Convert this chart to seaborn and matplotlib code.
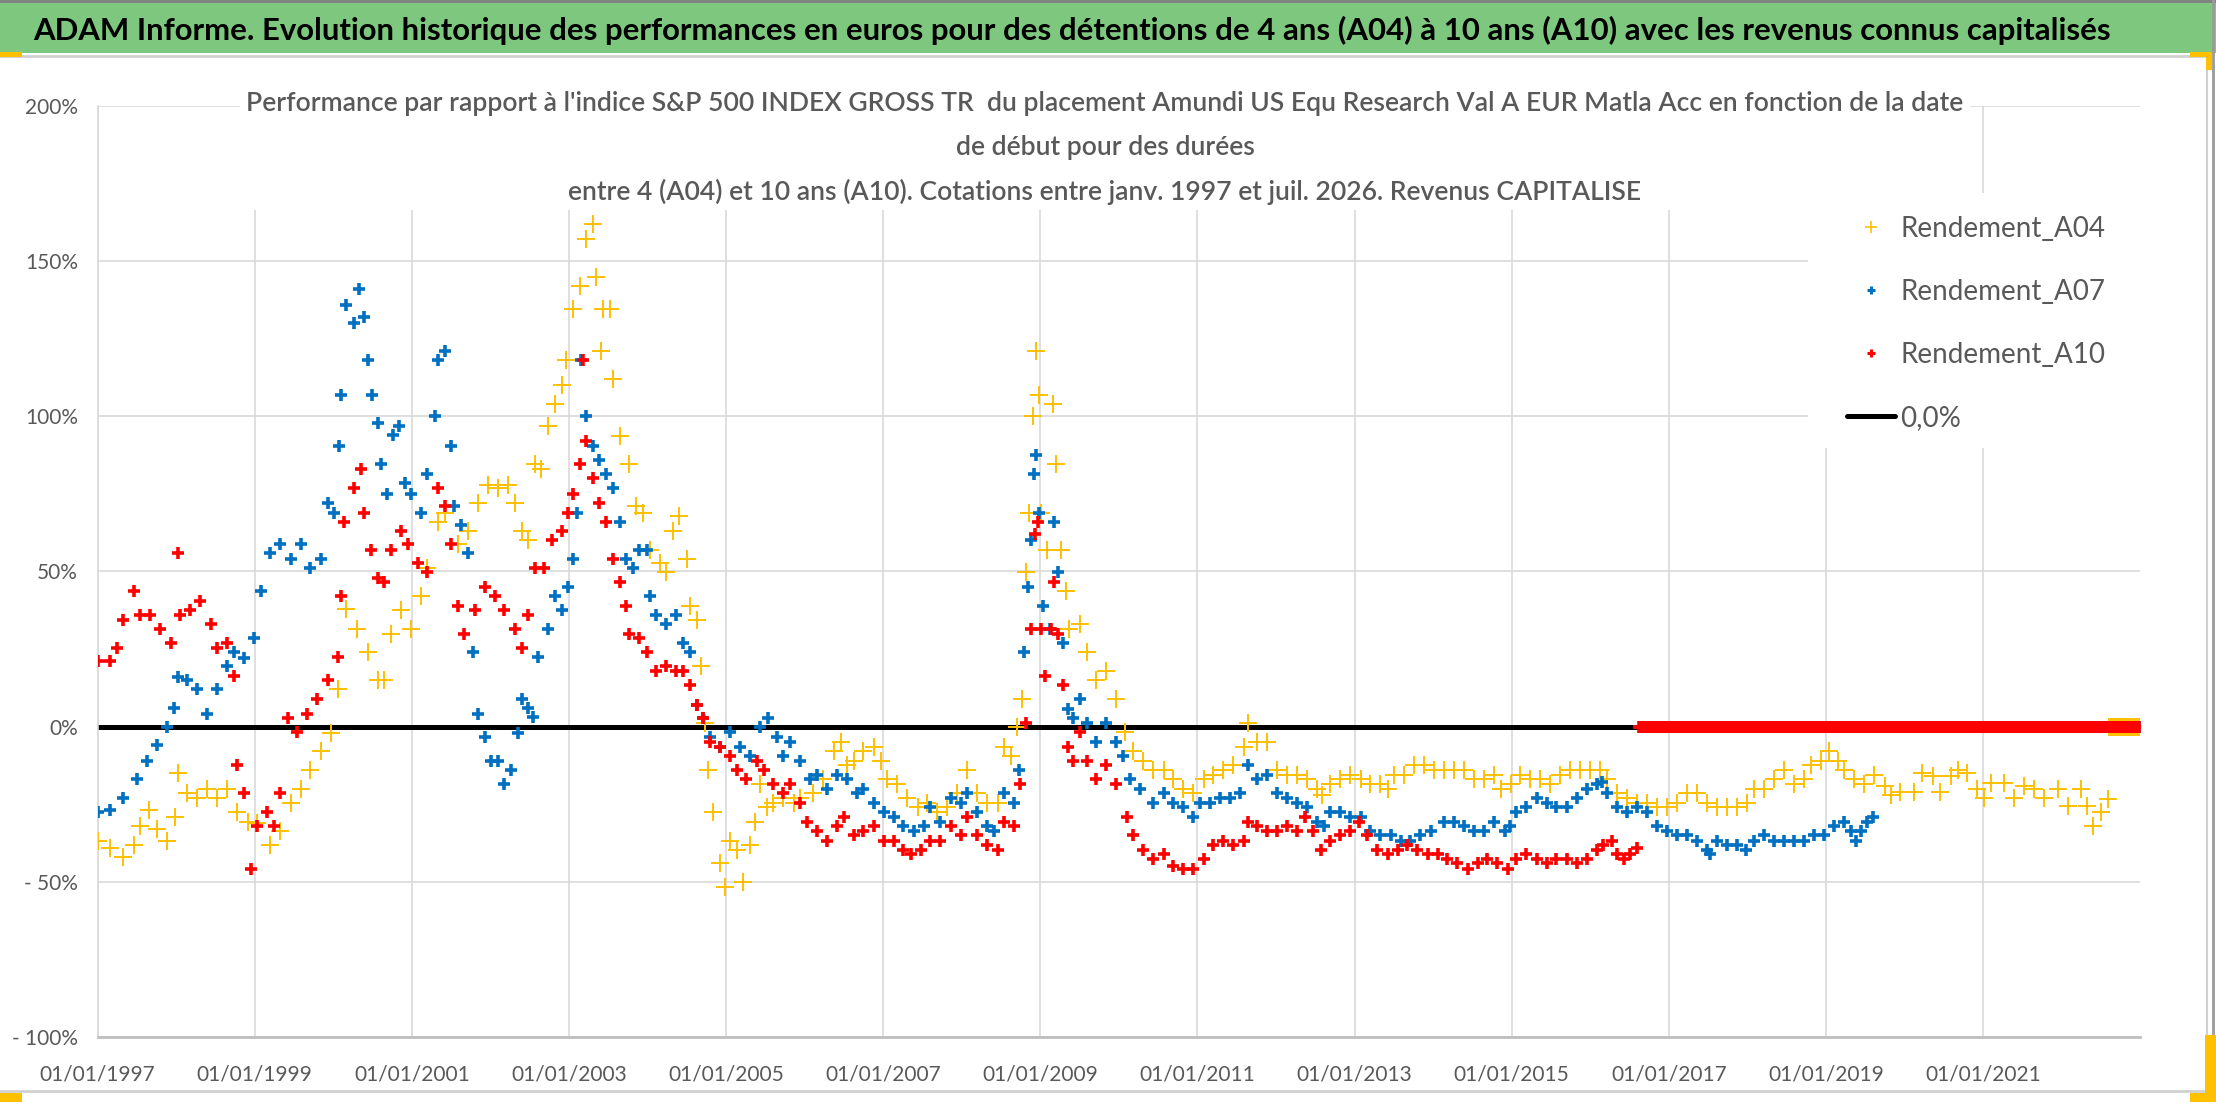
import numpy as np
import pandas as pd
import matplotlib
matplotlib.use("Agg")
import matplotlib.pyplot as plt
import seaborn as sns
from matplotlib.patches import Rectangle
from matplotlib.lines import Line2D

# ---------------- DATA ----------------
header_text = ("ADAM Informe. Evolution historique des performances en euros pour des détentions "
               "de 4 ans (A04) à 10 ans (A10) avec les revenus connus capitalisés")
title_lines = [
    "Performance par rapport à l'indice S&P 500 INDEX GROSS TR  du placement Amundi US Equ Research Val A EUR Matla Acc en fonction de la date",
    "de début pour des durées",
    "entre 4 (A04) et 10 ans (A10). Cotations entre janv. 1997 et juil. 2026. Revenus CAPITALISE",
]
series_names = ["Rendement_A04", "Rendement_A07", "Rendement_A10"]
zero_label = "0,0%"

# Rendement_A04 (decimal year, % value)
a04_years = [
    1997.00, 1997.16, 1997.33, 1997.46, 1997.54, 1997.65, 1997.76, 1997.89, 1997.99,
    1998.03, 1998.14, 1998.27, 1998.40, 1998.52, 1998.65, 1998.78, 1998.91,
    1999.03, 1999.20, 1999.33, 1999.46, 1999.59, 1999.71, 1999.84, 1999.97,
    2000.06, 2000.16, 2000.31, 2000.44, 2000.57, 2000.65, 2000.74, 2000.86, 2000.99,
    2001.12, 2001.20, 2001.33, 2001.42, 2001.59, 2001.71, 2001.84, 2001.97,
    2002.10, 2002.23, 2002.31, 2002.40, 2002.48, 2002.57, 2002.65, 2002.74, 2002.82, 2002.91, 2002.97,
    2003.05, 2003.14, 2003.22, 2003.31, 2003.35, 2003.41, 2003.43, 2003.52, 2003.56, 2003.65, 2003.77, 2003.86, 2003.94,
    2004.03, 2004.16, 2004.24, 2004.33, 2004.41, 2004.50, 2004.54, 2004.63, 2004.69, 2004.73, 2004.77, 2004.84, 2004.92, 2004.99,
    2005.05, 2005.14, 2005.22, 2005.31, 2005.37, 2005.43, 2005.52, 2005.60, 2005.73, 2005.86, 2005.94,
    2006.11, 2006.24, 2006.37, 2006.46, 2006.54, 2006.63, 2006.75, 2006.88, 2006.97,
    2007.05, 2007.18, 2007.31, 2007.44, 2007.56, 2007.69, 2007.82, 2007.94,
    2008.07, 2008.20, 2008.33, 2008.46, 2008.54, 2008.63, 2008.71, 2008.77, 2008.82, 2008.86, 2008.91, 2008.95, 2008.98,
    2009.01, 2009.08, 2009.16, 2009.20, 2009.27, 2009.33, 2009.37, 2009.50, 2009.59, 2009.71, 2009.84, 2009.97,
    2010.08, 2010.18, 2010.31, 2010.44, 2010.57, 2010.69, 2010.82, 2010.95,
    2011.08, 2011.20, 2011.33, 2011.46, 2011.59, 2011.65, 2011.76, 2011.89,
    2012.01, 2012.14, 2012.27, 2012.40, 2012.52, 2012.59, 2012.69, 2012.82, 2012.95,
    2013.08, 2013.20, 2013.33, 2013.42, 2013.50, 2013.63, 2013.76, 2013.88,
    2014.01, 2014.14, 2014.27, 2014.40, 2014.52, 2014.65, 2014.78, 2014.86, 2014.99,
    2015.11, 2015.23, 2015.36, 2015.49, 2015.62, 2015.74, 2015.87,
    2016.00, 2016.13, 2016.21, 2016.34, 2016.47, 2016.60, 2016.72, 2016.85, 2016.98,
    2017.11, 2017.23, 2017.36, 2017.49, 2017.62, 2017.74, 2017.87,
    2018.00, 2018.09, 2018.21, 2018.34, 2018.47, 2018.60, 2018.72, 2018.81, 2018.94,
    2019.04, 2019.15, 2019.23, 2019.36, 2019.49, 2019.62, 2019.75, 2019.83, 2019.95,
    2020.12, 2020.23, 2020.36, 2020.46, 2020.59, 2020.68, 2020.80, 2020.93,
    2021.01, 2021.10, 2021.27, 2021.40, 2021.52, 2021.65, 2021.78, 2021.95,
    2022.08, 2022.25, 2022.33, 2022.40, 2022.50, 2022.59,
]
a04_values = [
    -37, -39, -42, -38, -32, -27, -33, -37, -29,
    -15, -21.5, -23, -20, -23, -20, -27.5, -30.6,
    -31, -38, -33.6, -24.5, -20, -14, -8, -2,
    12, 38, 31.5, 24, 15, 15, 30, 37.5, 31.5,
    42, 51, 66, 69, 59, 63, 72, 78,
    77, 78, 72, 63, 60, 84.5, 83, 97, 104, 110, 118,
    134.5, 142, 157, 162, 145, 121, 134.5, 134.5, 112, 93.6, 84.5, 71, 69,
    57, 52.7, 49.7, 63, 68, 54, 39, 34.5, 19.4, 1.2, -14, -27.6, -44, -51.8,
    -36.7, -39.7, -50, -38, -30.6, -18.5, -26, -24.5, -23, -24.5, -23,
    -21.5, -17, -8, -4.8, -12.4, -11, -8, -6.4, -11,
    -17, -18.5, -23, -26, -24.5, -27.6, -26, -21.5,
    -14, -21.5, -24.5, -24.5, -6.4, -9.4, 0, 9, 49.7, 69, 100, 121, 107,
    69, 57, 104, 84.5, 57, 43.6, 31.5, 33, 24, 15, 18, 9,
    -1.8, -8, -11, -14, -14, -17, -20, -21.5,
    -17, -15.5, -14, -12.4, -6.4, 1.2, -4.8, -4.8,
    -14, -15.5, -15.5, -17, -20, -22, -18.5, -17, -15.5,
    -17, -18.5, -18.5, -20, -15.5, -15.5, -12.4, -12.4,
    -14, -14, -14, -14, -17, -17, -15.5, -20, -18.5,
    -15.5, -17, -17, -18.5, -15.5, -14, -14,
    -14, -14, -17, -21.5, -23, -24.5, -24.5, -26, -26,
    -24.5, -21.5, -21.5, -24.5, -26, -26, -26,
    -24.5, -20, -20, -17, -14, -18.5, -17, -12.4, -11,
    -8, -11, -14, -17, -18.5, -15.5, -19, -22, -21,
    -21, -15, -16, -21, -16, -14, -15, -20,
    -23, -18, -18, -23, -19, -20, -23, -20,
    -25.5, -20, -25.5, -32, -27.6, -23.4,
]

# Rendement_A07
a07_years = [
    1997.00, 1997.16, 1997.33, 1997.50, 1997.63, 1997.76, 1997.89, 1997.97,
    1998.03, 1998.14, 1998.27, 1998.40, 1998.52, 1998.65, 1998.74, 1998.86, 1998.99,
    1999.08, 1999.20, 1999.33, 1999.46, 1999.59, 1999.71, 1999.84, 1999.93,
    2000.01, 2000.08, 2000.10, 2000.16, 2000.27, 2000.33, 2000.40, 2000.44, 2000.50, 2000.57, 2000.61,
    2000.69, 2000.76, 2000.84, 2000.91, 2000.99,
    2001.12, 2001.20, 2001.29, 2001.33, 2001.42, 2001.50, 2001.54, 2001.63, 2001.71, 2001.78, 2001.84, 2001.93,
    2002.01, 2002.10, 2002.18, 2002.27, 2002.35, 2002.40, 2002.48, 2002.54, 2002.61, 2002.74, 2002.82, 2002.91, 2002.99,
    2003.05, 2003.11, 2003.16, 2003.22, 2003.31, 2003.39, 2003.48, 2003.56, 2003.65, 2003.73, 2003.82, 2003.90, 2003.99,
    2004.03, 2004.11, 2004.24, 2004.37, 2004.46, 2004.54, 2004.63, 2004.71, 2004.80, 2004.92,
    2005.05, 2005.18, 2005.31, 2005.43, 2005.54, 2005.65, 2005.73, 2005.82, 2005.94,
    2006.07, 2006.16, 2006.29, 2006.41, 2006.54, 2006.67, 2006.75, 2006.88,
    2007.01, 2007.14, 2007.26, 2007.39, 2007.52, 2007.60, 2007.73, 2007.86, 2007.99,
    2008.07, 2008.20, 2008.33, 2008.41, 2008.54, 2008.67, 2008.73, 2008.80, 2008.84, 2008.88, 2008.92, 2008.95, 2008.99,
    2009.03, 2009.12, 2009.18, 2009.22, 2009.29, 2009.35, 2009.42, 2009.50, 2009.59, 2009.71, 2009.84, 2009.97,
    2010.06, 2010.14, 2010.27, 2010.44, 2010.57, 2010.69, 2010.82, 2010.95,
    2011.03, 2011.16, 2011.29, 2011.42, 2011.54, 2011.65, 2011.76, 2011.89,
    2012.01, 2012.14, 2012.27, 2012.40, 2012.52, 2012.61, 2012.69, 2012.82, 2012.95,
    2013.08, 2013.20, 2013.33, 2013.46, 2013.59, 2013.71, 2013.84, 2013.97,
    2014.14, 2014.27, 2014.40, 2014.52, 2014.65, 2014.78, 2014.91, 2014.98,
    2015.06, 2015.19, 2015.32, 2015.45, 2015.57, 2015.70, 2015.83, 2015.96,
    2016.09, 2016.15, 2016.21, 2016.34, 2016.47, 2016.60, 2016.72, 2016.85, 2016.98,
    2017.11, 2017.23, 2017.36, 2017.49, 2017.53, 2017.62, 2017.74, 2017.87, 2017.98,
    2018.09, 2018.21, 2018.34, 2018.47, 2018.60, 2018.72, 2018.85, 2018.98,
    2019.11, 2019.23, 2019.32, 2019.38, 2019.45, 2019.53, 2019.60,
]
a07_values = [
    -27.6, -27, -23, -17, -11, -6, 0, 6,
    16, 15, 12, 4, 12, 19.4, 24, 22, 28.5,
    43.6, 56, 59, 54, 59, 51, 54, 72,
    69, 90.6, 107, 136, 130, 141, 132, 118, 107, 98, 84.5,
    75, 94, 97, 78.5, 75,
    69, 81.5, 100, 118, 121, 90.6, 71, 65, 56, 24, 4, -3.3,
    -11, -11, -18.5, -14, -2, 9, 6, 3, 22.4, 31.5, 42, 37.5, 45,
    54, 69, 118, 100, 90.6, 86, 81.5, 77, 66, 54, 51, 57, 57,
    42, 36, 33, 36, 27, 24, 7, 2.7, -3.3, -6.4,
    -1.8, -6.4, -9.4, 0, 2.7, -3.3, -9.4, -4.8, -11,
    -17, -15.5, -20, -15.5, -17, -21.5, -20, -24.5,
    -27.6, -29, -32, -33.6, -32, -26, -30.6, -23, -24.5,
    -21.5, -27.6, -32, -33.6, -21.5, -24.5, -14, 24, 45, 60, 81.5, 87.6, 69,
    39, 31.5, 66, 49.7, 27, 5.8, 2.7, 9, 1.2, -4.8, 1.2, -4.8,
    -9.4, -17, -20, -24.5, -21.5, -24.5, -26, -29,
    -24.5, -24.5, -23, -23, -21.5, -12.4, -17, -15.5,
    -21.5, -23, -24.5, -26, -30.6, -32, -27.6, -27.6, -29,
    -29, -33.6, -35, -35, -36.7, -36.7, -35, -33.6,
    -30.6, -30.6, -32, -33.6, -33.6, -30.6, -33.6, -32,
    -27.6, -26, -23, -24.5, -26, -26, -23, -20,
    -18.5, -17.7, -21.5, -26, -27.6, -26, -27.6, -32, -33.6,
    -35, -35, -36.7, -39.7, -41, -36.7, -38, -38, -39.7,
    -36.7, -35, -36.7, -36.7, -36.7, -36.7, -35, -35,
    -32, -30.6, -33.6, -36.7, -33.6, -30.6, -29,
]

# Rendement_A10
a10_years = [
    1997.00, 1997.16, 1997.25, 1997.33, 1997.46, 1997.54, 1997.67, 1997.80, 1997.93,
    1998.03, 1998.05, 1998.18, 1998.31, 1998.44, 1998.52, 1998.65, 1998.74, 1998.78, 1998.86, 1998.95,
    1999.03, 1999.16, 1999.25, 1999.33, 1999.42, 1999.54, 1999.67, 1999.80, 1999.93,
    2000.06, 2000.10, 2000.14, 2000.27, 2000.35, 2000.40, 2000.48, 2000.57, 2000.65, 2000.74, 2000.86, 2000.95,
    2001.08, 2001.20, 2001.33, 2001.42, 2001.50, 2001.59, 2001.67, 2001.80, 2001.93,
    2002.06, 2002.18, 2002.31, 2002.40, 2002.48, 2002.57, 2002.69, 2002.78, 2002.91, 2002.99,
    2003.05, 2003.14, 2003.18, 2003.22, 2003.31, 2003.39, 2003.48, 2003.56, 2003.65, 2003.73, 2003.77, 2003.90, 2003.99,
    2004.11, 2004.24, 2004.37, 2004.46, 2004.54, 2004.63, 2004.71, 2004.80, 2004.92,
    2005.05, 2005.14, 2005.26, 2005.39, 2005.48, 2005.60, 2005.73, 2005.82, 2005.94,
    2006.03, 2006.16, 2006.29, 2006.41, 2006.50, 2006.63, 2006.75, 2006.88,
    2007.01, 2007.14, 2007.26, 2007.35, 2007.48, 2007.60, 2007.73, 2007.86, 2007.99,
    2008.07, 2008.20, 2008.33, 2008.46, 2008.54, 2008.67, 2008.75, 2008.82, 2008.88, 2008.94, 2008.97,
    2009.01, 2009.06, 2009.14, 2009.18, 2009.23, 2009.29, 2009.35, 2009.42, 2009.50, 2009.59, 2009.71, 2009.84, 2009.97,
    2010.10, 2010.18, 2010.31, 2010.44, 2010.57, 2010.69, 2010.82, 2010.95,
    2011.08, 2011.20, 2011.33, 2011.46, 2011.59, 2011.65, 2011.76, 2011.89,
    2012.01, 2012.14, 2012.27, 2012.37, 2012.48, 2012.57, 2012.69, 2012.82, 2012.95,
    2013.06, 2013.16, 2013.29, 2013.42, 2013.55, 2013.67, 2013.80, 2013.93,
    2014.06, 2014.18, 2014.31, 2014.44, 2014.57, 2014.69, 2014.82, 2014.95,
    2015.06, 2015.19, 2015.32, 2015.45, 2015.57, 2015.70, 2015.83, 2015.96,
    2016.09, 2016.17, 2016.28, 2016.34, 2016.43, 2016.51, 2016.60,
]
a10_values = [
    21, 21, 25.5, 34.5, 43.6, 36, 36, 31.5, 27,
    56, 36, 37.6, 40.6, 33, 25.5, 27, 16.4, -12.4, -21.5, -45.8,
    -32, -27.6, -32, -21.5, 2.7, -1.8, 4, 9, 15,
    22.4, 42, 66, 77, 83, 69, 57, 48, 46.7, 57, 63, 59,
    52.7, 49.7, 77, 71, 59, 39, 30, 37.6, 45,
    42, 37.6, 31.5, 25.5, 36, 51, 51, 60, 63, 69,
    75, 84.5, 118, 92, 80, 72, 66, 54, 46.7, 39, 30, 28.6, 24,
    18, 19.4, 18, 18, 13.3, 7, 2.7, -4.8, -6.4,
    -9.4, -14, -17, -11, -14, -18.5, -21.5, -18.5, -24.5,
    -30.6, -33.6, -36.7, -32, -29, -35, -33.6, -32,
    -36.7, -36.7, -39.7, -41, -39.7, -36.7, -36.7, -32, -35,
    -29, -35, -38, -39.7, -30.6, -32, -18.5, 1.2, 31.5, 62, 66,
    31.5, 16.4, 31.5, 46.7, 30, 13.3, -6.4, -11, -1.8, -11, -17, -12.4, -18.5,
    -29, -35, -39.7, -42.7, -41, -45, -45.8, -45.8,
    -42.7, -38, -36.7, -38, -36.7, -30.6, -32, -33.6,
    -33.6, -32, -33.6, -29, -33.6, -39.7, -36.7, -35, -33.6,
    -30.6, -35, -39.7, -41, -39.7, -38, -39.7, -41,
    -41, -42.7, -44, -45.8, -44, -42.7, -44, -45.8,
    -42.7, -41, -42.7, -44, -42.7, -42.7, -44, -42.7,
    -39.7, -38, -36.7, -41, -42.7, -41, -39,
]

# After each series' last computable start date the workbook holds 0 values up to the axis end
zero_run_starts = [2022.60, 2019.62, 2016.62]   # A04, A07, A10
zero_run_end = 2022.99
zero_line_value = 0.0

# ---------------- STYLE ----------------
W, H = 2216, 1102
YEL, BLU, RED = "#FFC000", "#0070C0", "#FF0000"
GRAY_TXT = "#595959"
GRID = "#D9D9D9"

sns.set_theme(style="white")
plt.rcParams["font.family"] = ["Lato", "DejaVu Sans"]


def yr2date(y):
    yi = int(np.floor(y))
    return pd.Timestamp(yi, 1, 1) + pd.Timedelta(days=(y - yi) * 365.25)


def fx(px):
    return px / W


def fy(py):
    return 1 - py / H


def make_df(years, values, zero_start):
    assert len(years) == len(values)
    d = pd.DataFrame({"date": [yr2date(y) for y in years], "value": values})
    zd = pd.date_range(yr2date(zero_start), yr2date(zero_run_end), freq="4D")
    z = pd.DataFrame({"date": zd, "value": zero_line_value})
    return pd.concat([d, z], ignore_index=True)


df04 = make_df(a04_years, a04_values, zero_run_starts[0])
df07 = make_df(a07_years, a07_values, zero_run_starts[1])
df10 = make_df(a10_years, a10_values, zero_run_starts[2])

fig = plt.figure(figsize=(W / 100, H / 100), dpi=100)
fig.patch.set_facecolor("white")
ax = fig.add_axes([fx(97.5), fy(1037), (2140 - 97.5) / W, (1037 - 106) / H])
ax.set_facecolor("white")

# zero reference line
x0, x1 = yr2date(1997.0), yr2date(2023.0)
sns.lineplot(x=[x0, x1], y=[zero_line_value, zero_line_value], color="black",
             linewidth=3.6, ax=ax, zorder=2.2, legend=False)

sns.scatterplot(data=df04, x="date", y="value", marker="+", color=YEL, s=150,
                linewidth=1.4, ax=ax, zorder=3, legend=False)
sns.scatterplot(data=df07, x="date", y="value", marker="+", color=BLU, s=75,
                linewidth=2.6, ax=ax, zorder=4, legend=False)
sns.scatterplot(data=df10, x="date", y="value", marker="+", color=RED, s=75,
                linewidth=2.6, ax=ax, zorder=5, legend=False)

# axes
ax.set_xlim(x0, yr2date(2022.999))
ax.set_ylim(-100, 200)
ticks = [pd.Timestamp(y, 1, 1) for y in range(1997, 2022, 2)]
ax.set_xticks(ticks)
ax.set_xticklabels([t.strftime("%d/%m/%Y") for t in ticks])
yt = list(range(-100, 201, 50))
ax.set_yticks(yt)
ax.set_yticklabels([f"{v}%" if v >= 0 else f"- {abs(v)}%" for v in yt])
ax.tick_params(axis="both", length=0, labelsize=15, labelcolor=GRAY_TXT)
ax.tick_params(axis="x", pad=20)
ax.tick_params(axis="y", pad=14)
ax.set_xlabel("")
ax.set_ylabel("")
ax.grid(True, color=GRID, linewidth=1.2)
ax.set_axisbelow(True)
for s in ["top", "right"]:
    ax.spines[s].set_visible(False)
ax.spines["left"].set_color(GRID)
ax.spines["left"].set_linewidth(1.2)
ax.spines["bottom"].set_color("#BFBFBF")
ax.spines["bottom"].set_linewidth(2.0)

# white boxes of the in-plot title and of the legend (they hide gridlines)
ax.add_patch(Rectangle((0.0698, 0.8883), 0.9168 - 0.0698, 0.15, transform=ax.transAxes,
                       facecolor="white", edgecolor="none", zorder=1, clip_on=False))
ax.add_patch(Rectangle((0.8374, 0.6327), 0.17, 0.9066 - 0.6327, transform=ax.transAxes,
                       facecolor="white", edgecolor="none", zorder=1, clip_on=False))

# header band
fig.patches.append(Rectangle((0, fy(53)), 1, 53 / H, transform=fig.transFigure,
                             facecolor="#7DC87E", edgecolor="none", zorder=0))


def fit(t, target):
    fig.canvas.draw()
    r = fig.canvas.get_renderer()
    w = t.get_window_extent(r).width
    t.set_fontsize(t.get_fontsize() * target / w)


hdr = fig.text(fx(1072), fy(30), header_text, ha="center", va="center",
               fontsize=26, fontweight="bold", color="black")
fit(hdr, 2075)

tl = []
for txt, y in zip(title_lines, [103, 148, 192]):
    tl.append(fig.text(fx(1105), fy(y), txt, ha="center", va="center", fontsize=20,
                       fontweight="semibold", color=GRAY_TXT, zorder=6))
fit(tl[0], 1717)
for t in tl[1:]:
    t.set_fontsize(tl[0].get_fontsize())

# legend
handles = [
    Line2D([], [], ls="none", marker="+", color=YEL, markersize=8, markeredgewidth=1.2, label=series_names[0]),
    Line2D([], [], ls="none", marker="+", color=BLU, markersize=6, markeredgewidth=2.2, label=series_names[1]),
    Line2D([], [], ls="none", marker="+", color=RED, markersize=6, markeredgewidth=2.2, label=series_names[2]),
    Line2D([], [], color="black", linewidth=3.6, label=zero_label),
]
fig.legend(handles=handles, loc="upper left", bbox_to_anchor=(fx(1847), fy(216)),
           frameon=False, fontsize=20, handlelength=1.73, handletextpad=0.18,
           labelspacing=1.33, borderpad=0, borderaxespad=0, labelcolor=GRAY_TXT)

# chart frame and selection handles
def hline(y, x0p, x1p, c, lw):
    fig.add_artist(Line2D([fx(x0p), fx(x1p)], [fy(y), fy(y)], color=c, lw=lw, transform=fig.transFigure))


def vline(x, y0p, y1p, c, lw):
    fig.add_artist(Line2D([fx(x), fx(x)], [fy(y0p), fy(y1p)], color=c, lw=lw, transform=fig.transFigure))


hline(56, 0, 2207, "#D0D0D0", 2.0)
hline(1091, 0, 2207, "#D0D0D0", 2.0)
vline(2207, 56, 1091, "#D0D0D0", 1.5)
hline(1, 0, W, "#808080", 2.0)
vline(2213, 0, H, "#9A9A9A", 2.0)
for (x, y, w, h) in [(0, 52, 22, 5), (2190, 52, 22, 5), (2206, 52, 6, 18),
                     (0, 1093, 22, 9), (2190, 1093, 26, 9), (2205, 1035, 11, 67)]:
    fig.patches.append(Rectangle((fx(x), fy(y + h)), w / W, h / H, transform=fig.transFigure,
                                 facecolor=YEL, edgecolor="none", zorder=5))

fig.savefig("out.png", dpi=100)
